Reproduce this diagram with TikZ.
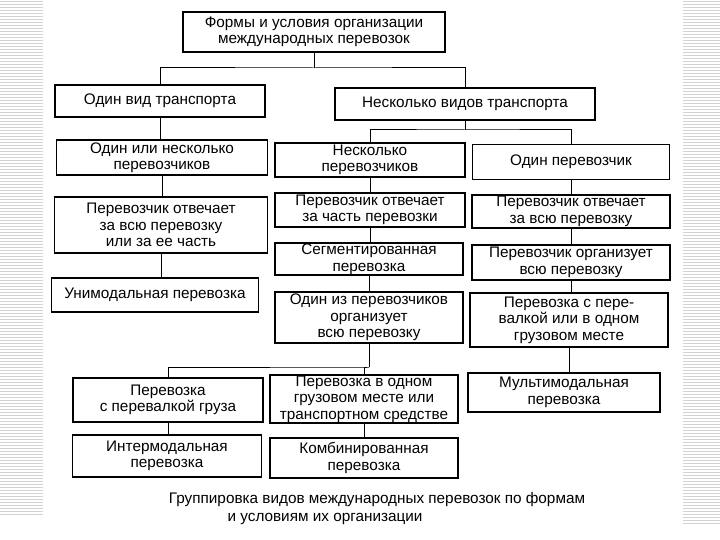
\documentclass[tikz,border=0pt]{standalone}
\usepackage{fontspec}
\setmainfont{Liberation Sans}
\tikzset{
  blk/.style={draw, line width=1.2pt, align=center, inner sep=0pt,
    font=\fontsize{15.3}{16.5}\selectfont},
  link/.style={line width=1pt},
  stripe/.style={color=gray!35, line width=0.8pt}
}
% vertical link from the bottom of #1 down to the top of #2
\newcommand\vlink[2]{\draw[link] (#1.south) -- (#1.south |- #2.north);}
\begin{document}
\begin{tikzpicture}[x=1pt,y=-1pt]
\useasboundingbox (0,0) rectangle (720,540);
\fill[white] (0,0) rectangle (720,540);

% side stripes
\foreach \y in {1,4,...,514} {
  \draw[stripe] (0,\y) -- (43,\y);
}
\foreach \y in {1,4,...,524} {
  \draw[stripe] (683,\y) -- (720,\y);
}

\node[blk, minimum width=262pt, minimum height=40pt] (top) at (314,32)
  {Формы и условия организации\\международных перевозок};

\node[blk, minimum width=210pt, minimum height=32pt] (one) at (160,101) {Один вид транспорта};
\node[blk, minimum width=260pt, minimum height=32pt] (sev) at (465,104) {Несколько видов транспорта};

% left column
\node[blk, minimum width=211pt, minimum height=35pt] (l1) at (162,157.5) {Один или несколько\\перевозчиков};
\node[blk, minimum width=213pt, minimum height=56pt] (l2) at (161,225) {Перевозчик отвечает\\за всю перевозку\\или за ее часть};
\node[blk, minimum width=207pt, minimum height=34pt] (l3) at (155,295) {Унимодальная перевозка};

% middle column
\node[blk, minimum width=190pt, minimum height=34pt] (m1) at (370,160) {Несколько\\перевозчиков};
\node[blk, minimum width=190pt, minimum height=34pt] (m2) at (370,210) {Перевозчик отвечает\\за часть перевозки};
\node[blk, minimum width=188pt, minimum height=32pt] (m3) at (369,259) {Сегментированная\\перевозка};
\node[blk, minimum width=188pt, minimum height=51pt] (m4) at (369,317.5) {Один из перевозчиков\\организует\\всю перевозку};

% right column
\node[blk, minimum width=197pt, minimum height=35pt] (r1) at (571,162) {Один перевозчик};
\node[blk, minimum width=198pt, minimum height=33pt] (r2) at (571,211.5) {Перевозчик отвечает\\за всю перевозку};
\node[blk, minimum width=198pt, minimum height=35pt] (r3) at (571,262.5) {Перевозчик организует\\всю перевозку};
\node[blk, minimum width=198pt, minimum height=54pt] (r4) at (569,320) {Перевозка с пере-\\валкой или в одном\\грузовом месте};
\node[blk, minimum width=192pt, minimum height=39pt] (r5) at (564,392.5) {Мультимодальная\\перевозка};

% bottom rows
\node[blk, minimum width=190pt, minimum height=44pt] (b1) at (168,400) {Перевозка\\с перевалкой груза};
\node[blk, minimum width=188pt, minimum height=48pt] (b2) at (364,399) {Перевозка в одном\\грузовом месте или\\транспортном средстве};
\node[blk, minimum width=189pt, minimum height=42pt] (b3) at (167,456) {Интермодальная\\перевозка};
\node[blk, minimum width=188pt, minimum height=40pt] (b4) at (364,458) {Комбинированная\\перевозка};

% connectors
\coordinate (j1) at (top.south |- 0,68);
\draw[link] (top.south) -- (j1);
\draw[link] (one.north) |- (j1) -| (sev.north);
\vlink{one}{l1}
\vlink{l1}{l2}
\vlink{l2}{l3}

\coordinate (j2) at (sev.south |- 0,130);
\draw[link] (sev.south) -- (j2);
\draw[link] (m1.north) |- (j2) -| (r1.north);
\vlink{m1}{m2}
\vlink{m2}{m3}
\vlink{m3}{m4}
\vlink{r1}{r2}
\vlink{r2}{r3}
\vlink{r3}{r4}
\vlink{r4}{r5}

\coordinate (j3) at (m4.south |- 0,367);
\draw[link] (m4.south) -- (j3);
\draw[link] (b1.north) |- (j3) -| (b2.north);
\vlink{b1}{b3}
\vlink{b2}{b4}

% caption
\node[font=\fontsize{15.3}{16.5}\selectfont] (cap1) at (377,500)
  {Группировка видов международных перевозок по формам};
\node[font=\fontsize{15.3}{16.5}\selectfont] (cap2) at (325,519)
  {и условиям их организации};
\end{tikzpicture}
\end{document}
